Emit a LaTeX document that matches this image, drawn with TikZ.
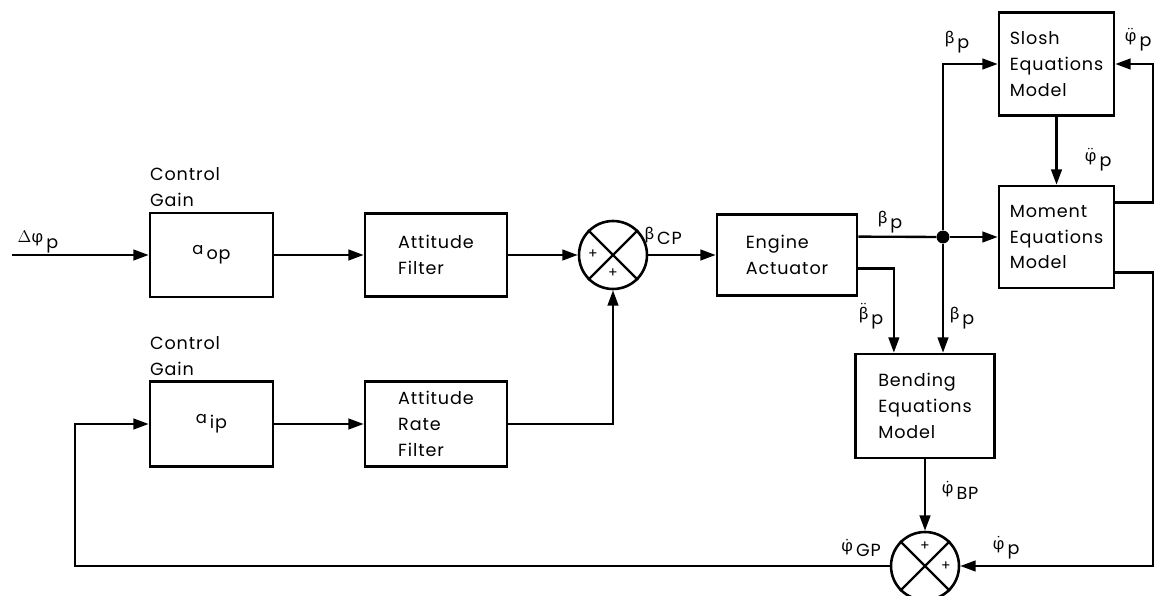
\documentclass[tikz,border=0pt]{standalone}
\usepackage{amsmath}
\usepackage{fontspec}
\setmainfont{Poppins}[LetterSpace=5.0]
\newfontfamily\grk{Fira Sans}
\usetikzlibrary{arrows.meta,positioning,calc}
\newcommand{\sig}[2]{\raisebox{0.3em}{\fontsize{14}{14}\selectfont #1}\,#2}
\newcommand{\gphi}{\text{\grk φ}}
\newcommand{\gbeta}{\text{\grk β}}

\begin{document}
\begin{tikzpicture}[x=0.03cm,y=-0.03cm,
  font=\fontsize{15}{22}\selectfont,
  >={Triangle[length=13pt,width=9pt]},
  blk/.style={draw,line width=2.2pt,align=left,inner sep=2pt},
  sumnode/.style={draw,circle,line width=2.2pt,minimum size=2.04cm,inner sep=0pt},
  dot/.style={circle,fill,inner sep=0pt,minimum size=11pt},
  lbl/.style={inner sep=1pt},
  plus/.style={font=\fontsize{12}{12}\selectfont,inner sep=0pt},
  wire/.style={line width=2pt}]
  \useasboundingbox (0,0) rectangle (1158,596);
  % forward path
  \node[blk,minimum width=3.69cm,minimum height=2.52cm] (aop) at (211.5,255) {\sig{a}{op}};
  \node[blk,minimum width=4.26cm,minimum height=2.49cm] (filt) at (436,255) {Attitude\\Filter};
  \node[sumnode] (sa) at (613,255) {};
  \node[blk,minimum width=4.2cm,minimum height=2.43cm] (act) at (787,255) {Engine\\Actuator};
  % rate path
  \node[blk,minimum width=3.69cm,minimum height=2.55cm] (aip) at (211.5,424) {\sig{a}{ip}};
  \node[blk,minimum width=4.26cm,minimum height=2.55cm] (rate) at (436,424) {Attitude\\Rate\\Filter};
  % vehicle models
  \node[blk,minimum width=3.45cm,minimum height=3.09cm] (slosh) at (1056.5,64) {Slosh\\Equations\\Model};
  \node[blk,minimum width=3.45cm,minimum height=3.06cm] (mom) at (1056.5,237) {Moment\\Equations\\Model};
  \node[blk,minimum width=4.17cm,minimum height=3.12cm] (bend) at (925,406) {Bending\\Equations\\Model};
  \node[sumnode] (sb) at (925,566) {};
  \node[dot] (j) at (943,237) {};
  % the crosses and signs
  \draw[line width=2pt] (sa.north west) -- (sa.south east) (sa.north east) -- (sa.south west);
  \draw[line width=2pt] (sb.north west) -- (sb.south east) (sb.north east) -- (sb.south west);
  \node[plus] at (593,254) {+};
  \node[plus] at (613,273) {+};
  \node[plus] at (925,546) {+};
  \node[plus] at (946,566) {+};
  % side points
  \coordinate (in) at (12,255);
  \coordinate (a1) at ($(act.north east)!0.28!(act.south east)$);
  \coordinate (a2) at ($(act.north east)!0.66!(act.south east)$);
  \coordinate (m1) at ($(mom.north east)!0.17!(mom.south east)$);
  \coordinate (m2) at ($(mom.north east)!0.84!(mom.south east)$);
  \coordinate (b1) at ($(bend.north west)!0.28!(bend.north east)$);
  \coordinate (rc) at (1153,64);
  \coordinate (rd) at (1153,566);
  \coordinate (fb) at (75,566);
  % connectors
  \draw[wire,->] (in) -- (aop.west);
  \draw[wire,->] (aop.east) -- (filt.west);
  \draw[wire,->] (filt.east) -- (sa.west);
  \draw[wire,->] (sa.east) -- (act.west);
  \draw[wire,->] (aip.east) -- (rate.west);
  \draw[wire,->] (rate.east) -| (sa.south);
  \draw[wire] (a1) -- (j);
  \draw[wire,->] (j) -- (j -| mom.west);
  \draw[wire,->] (j) |- (slosh.west);
  \draw[wire,->] (j) -- (j |- bend.north);
  \draw[wire,->] (a2) -| (b1);
  \draw[wire,->] (slosh.south) -- (mom.north);
  \draw[wire,->] (m1) -| (rc) -- (slosh.east);
  \draw[wire,->] (m2) -| (rd) -- (sb.east);
  \draw[wire,->] (bend.south) -- (sb.north);
  \draw[wire,->] (sb.west) -- (fb) |- (aip.west);
  % labels
  \node[lbl,anchor=south west,align=left] at ([yshift=3pt]aop.north west) {Control\\Gain};
  \node[lbl,anchor=south west,align=left] at ([yshift=3pt]aip.north west) {Control\\Gain};
  \node[lbl] at (38,242) {\sig{$\Delta\gphi$}{p}};
  \node[lbl] at (663,236) {\sig{$\gbeta$}{CP}};
  \node[lbl] at (890,222) {\sig{$\gbeta$}{p}};
  \node[lbl] at (957,42) {\sig{$\gbeta$}{p}};
  \node[lbl] at (1138,40) {\sig{$\ddot{\gphi}$}{p}};
  \node[lbl] at (1098,160) {\sig{$\ddot{\gphi}$}{p}};
  \node[lbl] at (871,316) {\sig{$\ddot{\gbeta}$}{p}};
  \node[lbl] at (962,318) {\sig{$\gbeta$}{p}};
  \node[lbl] at (960,490) {\sig{$\dot{\gphi}$}{BP}};
  \node[lbl] at (861,548) {\sig{$\dot{\gphi}$}{GP}};
  \node[lbl] at (1006,548) {\sig{$\dot{\gphi}$}{p}};
\end{tikzpicture}
\end{document}
